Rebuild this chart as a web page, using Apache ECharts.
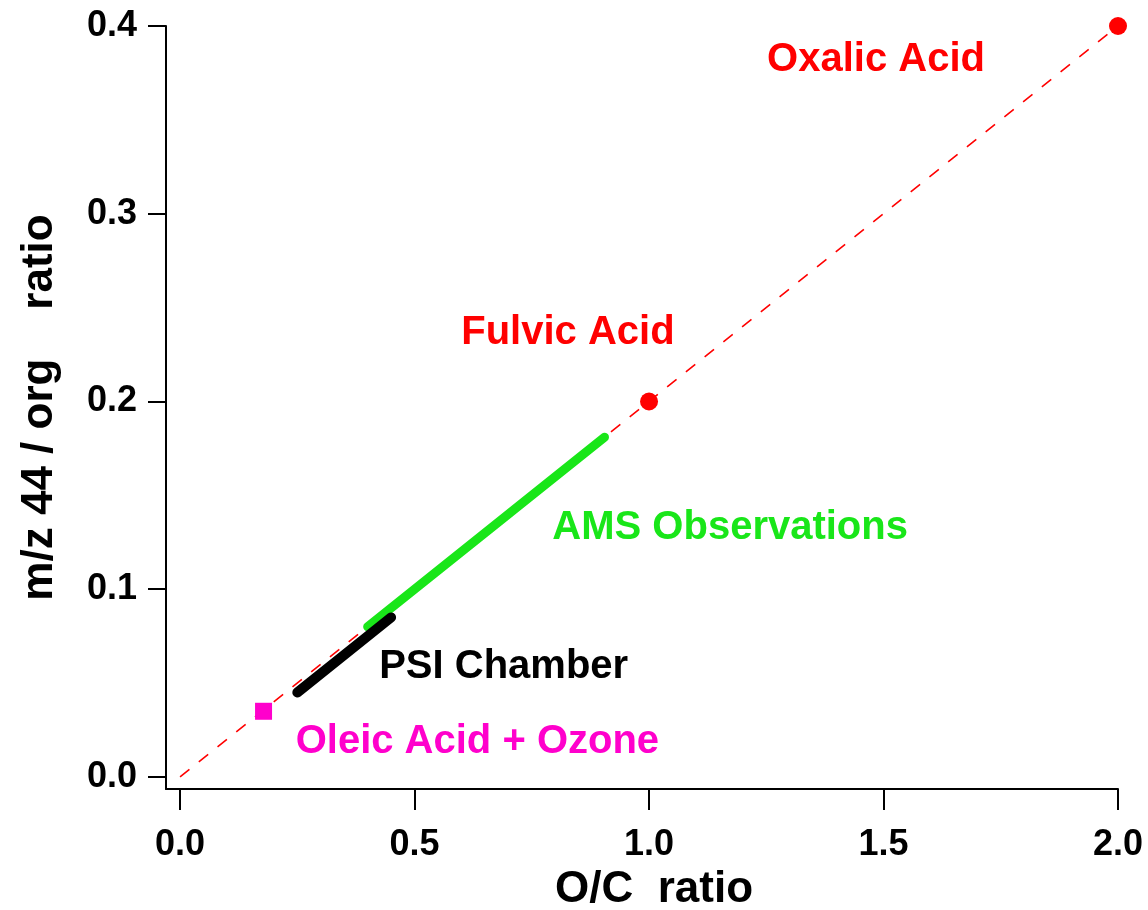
<!DOCTYPE html>
<html>
<head>
<meta charset="utf-8">
<script src="https://cdn.jsdelivr.net/npm/echarts@6/dist/echarts.min.js"></script>
<style>
  html, body { margin: 0; padding: 0; background: #ffffff; }
  #chart { width: 1148px; height: 910px; }
</style>
</head>
<body>
<div id="chart"></div>
<script>
// 1:5 reference line through the origin (m/z 44 / org = 0.2 * O/C)
const refLine = [[0, 0], [2.0, 0.4]];
// Pure compounds: Fulvic Acid, Oxalic Acid
const acidPoints = [[1.0, 0.2], [2.0, 0.4]];
// Oleic acid + ozone
const oleicPoint = [[0.178, 0.035]];
// Ranges of observations
const amsLine = [[0.40, 0.080], [0.905, 0.181]];
const psiLine = [[0.25, 0.045], [0.45, 0.085]];
// Tick positions
const xTicks = [0, 0.5, 1.0, 1.5, 2.0];
const yTicks = [0, 0.1, 0.2, 0.3, 0.4];
// Text annotations: name and anchor in data coordinates
const annoNames = ['Oxalic Acid', 'Fulvic Acid', 'AMS Observations', 'PSI Chamber', 'Oleic Acid + Ozone'];
const annoAnchors = [[1.484, 0.382], [0.827, 0.2365], [1.173, 0.1326], [0.690, 0.0586], [0.634, 0.0186]];
const annoColors = ['#ff0000', '#ff0000', '#19e619', '#000000', '#ff00cc'];

const FONT = '"Liberation Sans", Arial, Helvetica, sans-serif';

const chart = echarts.init(document.getElementById('chart'), null, { renderer: 'canvas' });

const axisCommon = {
  type: 'value',
  splitLine: { show: false },
  axisLine: { show: true, onZero: false, lineStyle: { color: '#000', width: 2 } },
  axisLabel: {
    color: '#000', fontSize: 36, fontWeight: 'bold', fontFamily: FONT,
    formatter: v => v.toFixed(1)
  },
  nameLocation: 'middle',
  nameTextStyle: { color: '#000', fontSize: 44, fontWeight: 'bold', fontFamily: FONT }
};

chart.setOption({
  animation: false,
  backgroundColor: '#ffffff',
  grid: { left: 166, right: 30, top: 26, bottom: 121, containLabel: false, outerBoundsMode: 'none' },
  xAxis: Object.assign({}, axisCommon, {
    min: -0.03, max: 2.0,
    name: 'O/C  ratio',
    nameGap: 74,
    nameTextStyle: Object.assign({}, axisCommon.nameTextStyle, { padding: [0, 0, 0, 24] }),
    axisTick: { show: true, inside: false, length: 21, customValues: xTicks, lineStyle: { color: '#000', width: 2 } },
    axisLabel: Object.assign({}, axisCommon.axisLabel, { customValues: xTicks, margin: 38 })
  }),
  yAxis: Object.assign({}, axisCommon, {
    min: -0.0064, max: 0.4,
    name: 'm/z 44 / org    ratio',
    nameGap: 104,
    axisTick: { show: true, inside: false, length: 18, customValues: yTicks, lineStyle: { color: '#000', width: 2 } },
    axisLabel: Object.assign({}, axisCommon.axisLabel, { customValues: yTicks, margin: 29 })
  }),
  series: [
    {
      type: 'line', data: refLine, symbol: 'none', silent: true, z: 1,
      lineStyle: { color: '#ff0000', width: 1.6, type: [12, 12] }
    },
    {
      type: 'line', data: amsLine, symbol: 'none', silent: true, z: 2,
      lineStyle: { color: '#19e619', width: 9, cap: 'round' }
    },
    {
      type: 'line', data: psiLine, symbol: 'none', silent: true, z: 3,
      lineStyle: { color: '#000000', width: 10, cap: 'round' }
    },
    {
      type: 'scatter', data: acidPoints, symbol: 'circle', symbolSize: 18, clip: false, silent: true, z: 4,
      itemStyle: { color: '#ff0000', opacity: 1 }
    },
    {
      type: 'scatter', data: oleicPoint, symbol: 'rect', symbolSize: 17, clip: false, silent: true, z: 4,
      itemStyle: { color: '#ff00cc', opacity: 1 }
    },
    {
      type: 'scatter', symbolSize: 1, clip: false, silent: true, z: 5,
      itemStyle: { color: 'rgba(0,0,0,0)', opacity: 1 },
      data: annoNames.map((n, i) => ({
        name: n, value: annoAnchors[i],
        label: { color: annoColors[i] }
      })),
      label: {
        show: true, position: 'inside', formatter: '{b}',
        fontSize: 40, fontWeight: 'bold', fontFamily: FONT
      }
    }
  ]
});
</script>
</body>
</html>
